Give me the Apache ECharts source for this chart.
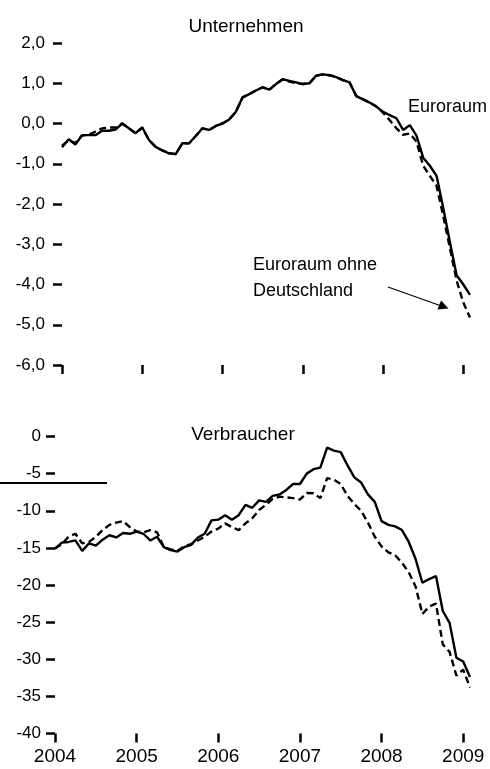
<!DOCTYPE html>
<html>
<head>
<meta charset="utf-8">
<script src="https://cdn.jsdelivr.net/npm/echarts@6/dist/echarts.min.js"></script>
<style>
  html, body { margin: 0; padding: 0; background: #fff; }
  #chart { width: 490px; height: 769px; }
</style>
</head>
<body>
<div id="chart"></div>
<script>
// Monatswerte Jan 2004 - Feb 2009
var years = [2004, 2005, 2006, 2007, 2008, 2009];
var months = [];
years.forEach(function (y) {
  for (var m = 1; m <= 12; m++) {
    if (y === 2009 && m > 2) break;
    months.push(y + "-" + (m < 10 ? "0" + m : m));
  }
});

// Unternehmen
var euroTop = [
  -0.59, -0.39, -0.52, -0.29, -0.29, -0.29, -0.18, -0.18, -0.15, 0.0, -0.12, -0.24,
  -0.10, -0.41, -0.58, -0.67, -0.74, -0.76, -0.49, -0.49, -0.31, -0.12, -0.16, -0.06,
  0.0, 0.10, 0.29, 0.65, 0.73, 0.82, 0.90, 0.84, 0.98, 1.10, 1.06, 1.02,
  0.98, 1.00, 1.19, 1.22, 1.20, 1.15, 1.08, 1.02, 0.68, 0.60, 0.52, 0.42,
  0.29, 0.21, 0.13, -0.16, -0.04, -0.30, -0.85, -1.05, -1.30, -2.10, -2.95, -3.77,
  -4.00, -4.26
];
var exDeTop = [
  -0.55, -0.42, -0.48, -0.30, -0.28, -0.20, -0.12, -0.10, -0.10, 0.0, -0.12, -0.24,
  -0.10, -0.41, -0.58, -0.67, -0.74, -0.76, -0.49, -0.49, -0.31, -0.12, -0.16, -0.06,
  0.0, 0.10, 0.29, 0.65, 0.73, 0.82, 0.90, 0.84, 0.98, 1.10, 1.04, 1.00,
  0.98, 1.00, 1.19, 1.22, 1.20, 1.15, 1.08, 1.02, 0.68, 0.60, 0.52, 0.42,
  0.27, 0.08, -0.12, -0.28, -0.25, -0.45, -1.05, -1.30, -1.55, -2.30, -3.10, -3.90,
  -4.45, -4.82
];

// Verbraucher
var euroBot = [
  -15.1, -14.3, -14.2, -14.0, -15.4, -14.4, -14.7, -13.9, -13.3, -13.6, -13.0, -13.1,
  -12.8, -13.1, -14.0, -13.5, -14.9, -15.3, -15.5, -14.9, -14.6, -13.6, -13.1, -11.3,
  -11.2, -10.6, -11.2, -10.6, -9.2, -9.6, -8.6, -8.8, -8.0, -7.8, -7.2, -6.4,
  -6.4, -5.0, -4.4, -4.2, -1.5, -1.9, -2.1, -3.9, -5.5, -6.2, -7.8, -8.8,
  -11.4, -11.9, -12.1, -12.6, -14.2, -16.5, -19.7, -19.2, -18.8, -23.5, -25.1, -29.8,
  -30.3, -32.4
];
var exDeBot = [
  -15.1, -14.5, -13.5, -13.1, -14.4, -14.2, -13.5, -12.6, -11.9, -11.6, -11.4, -12.2,
  -12.8, -12.9, -12.6, -12.9, -14.9, -15.2, -15.4, -14.8, -14.5, -14.0, -13.5, -12.8,
  -12.4, -11.7, -12.2, -12.6, -11.7, -11.0, -9.9, -9.2, -8.4, -8.1, -8.2, -8.3,
  -8.5, -7.6, -7.65, -8.3, -5.6, -5.8, -6.4, -8.0, -9.1, -10.0, -11.6, -13.5,
  -14.8, -15.6, -16.0, -17.0, -18.3, -20.2, -23.9, -22.9, -22.5, -28.0, -29.0, -32.2,
  -31.4, -33.8
];

var FONT = "'Liberation Sans', Arial, sans-serif";
var isJan = function (i) { return i % 12 === 0; };

var chart = echarts.init(document.getElementById("chart"), null, { renderer: "canvas" });

function xAxisFor(gridIndex, showLabels) {
  return {
    type: "category",
    gridIndex: gridIndex,
    data: months,
    boundaryGap: false,
    axisLine: { show: false, onZero: false },
    axisTick: { show: true, interval: isJan, length: 9, lineStyle: { color: "#000", width: 2.5 } },
    axisLabel: {
      show: showLabels,
      interval: isJan,
      margin: 14,
      color: "#000",
      fontFamily: FONT,
      fontSize: 19,
      formatter: function (v) { return v.slice(0, 4); }
    },
    splitLine: { show: false }
  };
}

function yAxisFor(gridIndex, min, max, interval, margin, fmt) {
  return {
    type: "value",
    gridIndex: gridIndex,
    min: min,
    max: max,
    interval: interval,
    axisLine: { show: false, onZero: false },
    axisTick: { show: true, length: 9, lineStyle: { color: "#000", width: 2.5 } },
    axisLabel: { margin: margin, color: "#000", fontFamily: FONT, fontSize: 17, formatter: fmt },
    splitLine: { show: false }
  };
}

function lineSeries(idx, data, dashed) {
  return {
    type: "line",
    xAxisIndex: idx,
    yAxisIndex: idx,
    data: data,
    symbol: "none",
    silent: true,
    animation: false,
    z: dashed ? 2 : 3,
    lineStyle: { color: "#000", width: 2.4, type: dashed ? [7, 4] : "solid" }
  };
}

var option = {
  animation: false,
  backgroundColor: "#fff",
  title: [
    { text: "Unternehmen", left: 241, top: 12, textAlign: "center",
      textStyle: { fontFamily: FONT, fontSize: 19, fontWeight: "normal", color: "#000" } },
    { text: "Verbraucher", left: 238, top: 420, textAlign: "center",
      textStyle: { fontFamily: FONT, fontSize: 19, fontWeight: "normal", color: "#000" } }
  ],
  grid: [
    { left: 62, top: 43, width: 408, height: 322 },
    { left: 55, top: 436.5, width: 415, height: 297 }
  ],
  xAxis: [xAxisFor(0, false), xAxisFor(1, true)],
  yAxis: [
    yAxisFor(0, -6, 2, 1, 17, function (v) { return v.toFixed(1).replace(".", ","); }),
    yAxisFor(1, -40, 0, 5, 14, function (v) { return String(v); })
  ],
  series: [
    lineSeries(0, exDeTop, true),
    lineSeries(0, euroTop, false),
    lineSeries(1, exDeBot, true),
    lineSeries(1, euroBot, false)
  ],
  graphic: [
    { type: "text", left: 408, top: 98,
      style: { text: "Euroraum", fontFamily: FONT, fontSize: 18, fill: "#000" } },
    { type: "text", left: 253, top: 252,
      style: { text: "Euroraum ohne\nDeutschland", fontFamily: FONT, fontSize: 18, lineHeight: 26, fill: "#000" } },
    { type: "line", shape: { x1: 388, y1: 287, x2: 440, y2: 305.5 },
      style: { stroke: "#000", lineWidth: 1.2 } },
    { type: "polygon", shape: { points: [[448.5, 308.5], [437.5, 309.5], [441, 300.5]] },
      style: { fill: "#000" } },
    { type: "line", shape: { x1: 0, y1: 483, x2: 107, y2: 483 },
      style: { stroke: "#000", lineWidth: 2 } }
  ]
};

chart.setOption(option);
</script>
</body>
</html>
